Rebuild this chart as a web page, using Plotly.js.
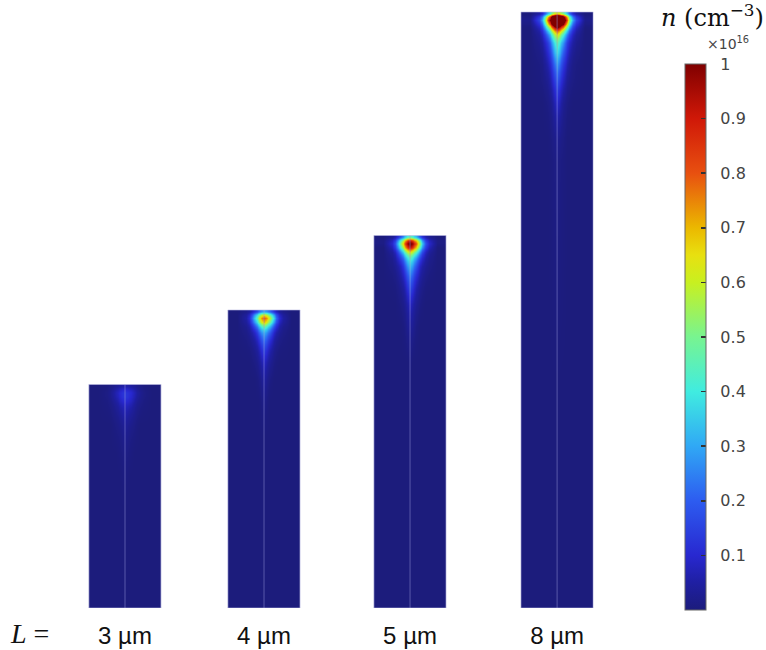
<!DOCTYPE html>
<html><head><meta charset="utf-8">
<script src="https://cdn.plot.ly/plotly-3.0.1.min.js"></script>
<style>html,body{margin:0;padding:0;background:#fff}</style>
</head><body><div id="chart" style="width:766px;height:650px"></div>
<script>
// ---- data ----
const lengths = [3, 4, 5, 8];                         // nanowire length L (µm)
const lengthLabels = ['3 µm', '4 µm', '5 µm', '8 µm'];
// depth below the top facet (µm) of the cell edges; last edge = L
const depthEdges = [0, 0.04, 0.08, 0.13, 0.19, 0.26, 0.35, 0.47, 0.62, 0.8, 1.05, 1.4, 2.0];
// lateral cell edges from the axis outward (µm), mirrored about the axis
const halfColEdges = [0.015, 0.05, 0.1, 0.16, 0.25, 0.485];
// carrier density n (×10^16 cm^-3), half profile: rows top→bottom, cols axis→side
const n3um = [
  [0.06, 0.055, 0.045, 0.03, 0.012, 0],
  [0.10, 0.09, 0.075, 0.05, 0.018, 0],
  [0.13, 0.12, 0.10, 0.065, 0.025, 0],
  [0.13, 0.12, 0.095, 0.06, 0.022, 0],
  [0.11, 0.10, 0.08, 0.045, 0.016, 0],
  [0.08, 0.07, 0.055, 0.03, 0.01, 0],
  [0.06, 0.05, 0.035, 0.02, 0.005, 0],
  [0.04, 0.03, 0.02, 0.01, 0, 0],
  [0.025, 0.02, 0.01, 0.005, 0, 0],
  [0.015, 0.01, 0.005, 0, 0, 0],
  [0.005, 0.005, 0, 0, 0, 0],
  [0, 0, 0, 0, 0, 0],
  [0, 0, 0, 0, 0, 0]
];
const n4um = [
  [0.30, 0.27, 0.21, 0.12, 0.04, 0],
  [0.62, 0.57, 0.45, 0.28, 0.08, 0],
  [0.80, 0.74, 0.57, 0.35, 0.10, 0],
  [0.70, 0.63, 0.48, 0.28, 0.08, 0],
  [0.48, 0.42, 0.31, 0.17, 0.05, 0],
  [0.32, 0.27, 0.19, 0.09, 0.03, 0],
  [0.23, 0.18, 0.11, 0.05, 0.015, 0],
  [0.15, 0.11, 0.06, 0.025, 0.005, 0],
  [0.09, 0.06, 0.03, 0.01, 0, 0],
  [0.05, 0.03, 0.01, 0, 0, 0],
  [0.02, 0.01, 0, 0, 0, 0],
  [0, 0, 0, 0, 0, 0],
  [0, 0, 0, 0, 0, 0]
];
const n5um = [
  [0.46, 0.41, 0.32, 0.18, 0.06, 0],
  [0.88, 0.82, 0.66, 0.42, 0.14, 0.01],
  [1.05, 0.98, 0.80, 0.52, 0.18, 0.01],
  [0.92, 0.85, 0.68, 0.42, 0.14, 0],
  [0.65, 0.58, 0.45, 0.26, 0.08, 0],
  [0.45, 0.39, 0.28, 0.15, 0.05, 0],
  [0.34, 0.28, 0.18, 0.08, 0.03, 0],
  [0.25, 0.19, 0.11, 0.05, 0.015, 0],
  [0.17, 0.12, 0.06, 0.025, 0.005, 0],
  [0.09, 0.06, 0.03, 0.01, 0, 0],
  [0.04, 0.03, 0.01, 0, 0, 0],
  [0.01, 0, 0, 0, 0, 0],
  [0, 0, 0, 0, 0, 0]
];
const n8um = [
  [0.65, 0.60, 0.50, 0.32, 0.10, 0],
  [1.35, 1.28, 1.05, 0.68, 0.24, 0.01],
  [1.50, 1.40, 1.20, 0.80, 0.30, 0.02],
  [1.30, 1.20, 1.00, 0.65, 0.22, 0.01],
  [0.95, 0.85, 0.68, 0.42, 0.14, 0],
  [0.65, 0.57, 0.42, 0.24, 0.08, 0],
  [0.48, 0.40, 0.28, 0.14, 0.05, 0],
  [0.40, 0.32, 0.20, 0.10, 0.03, 0],
  [0.29, 0.22, 0.13, 0.06, 0.015, 0],
  [0.20, 0.14, 0.08, 0.03, 0.01, 0],
  [0.10, 0.07, 0.03, 0.01, 0, 0],
  [0.03, 0.02, 0.01, 0, 0, 0],
  [0, 0, 0, 0, 0, 0]
];
const densityMaps = [n3um, n4um, n5um, n8um];
const cbTickVals = [0.1, 0.2, 0.3, 0.4, 0.5, 0.6, 0.7, 0.8, 0.9, 1];
const cbTickText = ['0.1', '0.2', '0.3', '0.4', '0.5', '0.6', '0.7', '0.8', '0.9', '1'];

// ---- layout / style ----
const STYLE = {
  barCenters: [0, 1.866, 3.826, 5.80],
  halfWidth: 0.485,
  colorscale: [
    [0, '#1c1c7c'], [0.05, '#1f1fa2'], [0.1, '#2828d0'], [0.2, '#2d5cf0'],
    [0.3, '#30a8f5'], [0.4, '#40ece0'], [0.5, '#78f490'], [0.6, '#c8f020'],
    [0.65, '#e8e010'], [0.7, '#ebb800'], [0.8, '#e85010'], [0.9, '#d01808'], [1, '#800000']
  ]
};

const colorbar = {
  x: 685 / 766, xanchor: 'left', xref: 'paper',
  y: -2 / 608, yanchor: 'bottom', yref: 'paper',
  len: 546 / 608, lenmode: 'fraction',
  thickness: 21, thicknessmode: 'pixels',
  outlinewidth: 1, outlinecolor: '#666',
  xpad: 0, ypad: 0, borderwidth: 0,
  tickmode: 'array', tickvals: cbTickVals,
  ticktext: cbTickText.map(t => '\u00a0\u00a0' + t),
  ticks: 'inside', ticklen: 5, tickcolor: '#333', tickwidth: 1.5,
  tickfont: {family: 'DejaVu Sans', size: 16, color: '#444'}
};

const fullCol = [...halfColEdges].reverse().map(v => -v).concat(halfColEdges);
const traces = lengths.map((L, i) => {
  const c = STYLE.barCenters[i];
  const dEdges = depthEdges.filter(d => d < L).concat([L]);
  const yEdges = dEdges.map(d => L - d).reverse();
  const rows = densityMaps[i].slice(0, dEdges.length - 1)
    .map(r => r.slice(1).reverse().concat(r));
  return {
    type: 'heatmap',
    x: fullCol.map(e => c + e),
    y: yEdges,
    z: rows.reverse(),
    zmin: 0, zmax: 1,
    zsmooth: 'best',
    colorscale: STYLE.colorscale,
    hoverinfo: 'skip',
    showscale: i === lengths.length - 1,
    colorbar: colorbar
  };
});

const shapes = [];
lengths.forEach((L, i) => {
  const c = STYLE.barCenters[i];
  shapes.push({type: 'line', x0: c, x1: c, y0: 0, y1: L, xref: 'x', yref: 'y',
    line: {color: 'rgba(150,150,215,0.5)', width: 1}});
  shapes.push({type: 'rect', x0: c - STYLE.halfWidth, x1: c + STYLE.halfWidth, y0: 0, y1: L,
    xref: 'x', yref: 'y', line: {color: 'rgba(185,185,225,0.6)', width: 1}});
});

const layout = {
  width: 766, height: 650,
  margin: {l: 0, r: 0, t: 0, b: 42, autoexpand: false},
  paper_bgcolor: '#fff', plot_bgcolor: '#fff',
  showlegend: false,
  xaxis: {
    range: [-1.678, 8.604], showgrid: false, zeroline: false, showline: false,
    tickmode: 'array', tickvals: STYLE.barCenters, ticktext: lengthLabels,
    ticks: 'outside', ticklen: 6, tickcolor: 'rgba(0,0,0,0)',
    tickfont: {family: 'Liberation Sans Narrow, Liberation Sans', size: 24, color: '#111'},
    fixedrange: true
  },
  yaxis: {range: [0, 608 / 74.5], visible: false, fixedrange: true},
  shapes: shapes,
  annotations: [
    {text: '<i>n</i> (cm<sup>−3</sup>)', xref: 'paper', yref: 'paper', x: 1, y: 1.004,
     xanchor: 'right', yanchor: 'top', showarrow: false,
     font: {family: 'DejaVu Serif', size: 24, color: '#111'}},
    {text: '×10<sup>16</sup>', xref: 'paper', yref: 'paper', x: 705 / 766, y: (608 - 32) / 608,
     xanchor: 'left', yanchor: 'top', showarrow: false,
     font: {family: 'DejaVu Sans', size: 14, color: '#444'}},
    {text: '<i>L</i> =', xref: 'paper', yref: 'paper', x: 8 / 766, y: (608 - 633) / 608,
     xanchor: 'left', yanchor: 'middle', showarrow: false,
     font: {family: 'Liberation Serif', size: 28, color: '#111'}}
  ]
};

Plotly.newPlot('chart', traces, layout, {displayModeBar: false, staticPlot: true});
</script>
</body></html>
